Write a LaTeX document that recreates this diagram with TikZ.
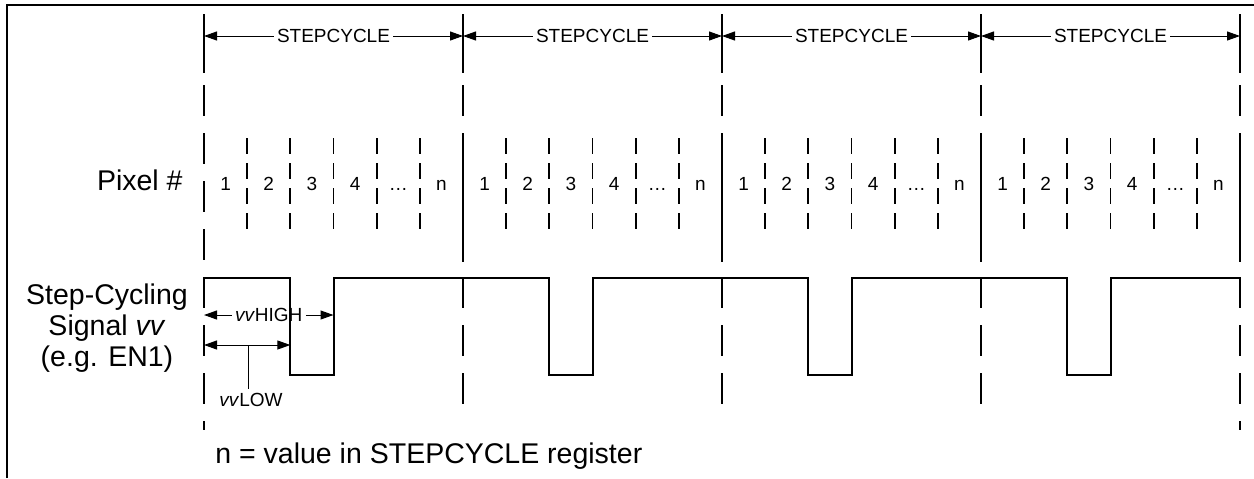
\documentclass[tikz,border=0pt]{standalone}
\usepackage{fontspec}
\setmainfont{Liberation Sans}
\usetikzlibrary{arrows.meta,positioning}
\tikzset{
	boxline/.style   = {line width=1.25pt},
	bound/.style     = {line width=1pt},
	cycledash/.style = {line width=1pt, dash pattern=on 15.5pt off 8.5pt},
	pixdash/.style   = {line width=0.9pt, dash pattern=on 8pt off 4.5pt},
	wave/.style      = {line width=1pt},
	dimline/.style   = {line width=0.5pt, ->},
	smalltext/.style = {inner sep=1.5pt, font=\fontsize{9.5pt}{11pt}\selectfont},
	bigtext/.style   = {inner sep=0pt, font=\fontsize{14.25pt}{15.5pt}\selectfont}
}

\begin{document}
\begin{tikzpicture}[x=0.5pt, y=-0.5pt, >={Triangle[length=6.5pt,width=4.5pt]}]
	\useasboundingbox (0,0) rectangle (1254,478);
	\draw[boxline] (7,478) -- (7,5) -- (1254,5);

	% cycle boundaries
	\foreach \i in {0,...,4}
		\coordinate (b\i) at (204+259*\i,0);
	\foreach \i in {0,...,4}
		\draw[bound] (b\i) ++(0,14) -- ++(0,59);
	\draw[cycledash] (b0) ++(0,85) -- ++(0,345);
	\draw[cycledash] (b4) ++(0,85) -- ++(0,345);
	\foreach \i in {1,2,3}
		\draw[cycledash] (b\i) ++(0,85) -- ++(0,320);
	\foreach \i in {1,...,4}
		\draw[bound] (b\i) ++(0,133) -- ++(0,129);

	% pixels
	\foreach \i in {0,...,3}
		\foreach \k in {1,...,5}
			\draw[pixdash] (204+259*\i+43.17*\k,138) -- ++(0,92);
	\foreach \i in {0,...,3}
		\foreach \t [count=\k from 0] in {1,2,3,4,\dots,n}
			\node[smalltext, anchor=base] (p\i\k) at (225.6+259*\i+43.17*\k,190) {\t};

	% stepcycle arrows
	\foreach \i [evaluate=\i as \j using int(\i+1)] in {0,...,3} {
		\node[smalltext] (sc\i) at (333.5+259*\i,36) {STEPCYCLE};
		\draw[dimline] (sc\i) -- (b\i |- sc\i);
		\draw[dimline] (sc\i) -- (b\j |- sc\i);
	}

	% signal
	\coordinate (hi) at (0,278);
	\coordinate (fall) at (290.35,278);
	\coordinate (rise) at (333.5,278);
	\draw[wave] (b0 |- hi) foreach \i in {0,...,3} {
		-- (290.35+259*\i,278) -- ++(0,97) -- ++(43.17,0) -- ++(0,-97) } -- (b4 |- hi);

	\node[smalltext] (vh) at (268.75,315) {\textit{vv}HIGH};
	\draw[dimline] (vh) -- (b0 |- vh);
	\draw[dimline] (vh) -- (rise |- vh);
	\coordinate (lo) at (248,345);
	\draw[dimline, <->] (b0 |- lo) -- (fall |- lo);
	\node[smalltext, anchor=base west] (vl) at (216,406) {\textit{vv}LOW};
	\draw[line width=0.5pt] (lo) -- (lo |- vl.north);

	% labels
	\node[bigtext, anchor=base east] (pix) at (183,190) {Pixel \#};
	\node[bigtext, align=center] (sig) at (107,328) {Step-Cycling\\Signal \textit{vv}\\(e.g. EN1)};
	\node[bigtext, anchor=base west] (note) at (215,463) {n = value in STEPCYCLE register};
\end{tikzpicture}
\end{document}
